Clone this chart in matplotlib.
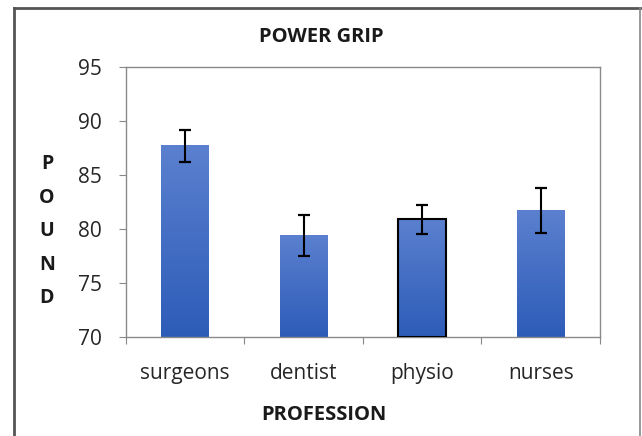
import matplotlib
matplotlib.use("Agg")
import matplotlib.pyplot as plt
import numpy as np
from matplotlib.patches import Rectangle
from matplotlib.colors import LinearSegmentedColormap

categories = ["surgeons", "dentist", "physio", "nurses"]
values = [87.7, 79.4, 80.9, 81.7]
errors = [1.5, 1.9, 1.35, 2.05]
y_ticks = [70, 75, 80, 85, 90, 95]

plt.rcParams['font.family'] = ['Open Sans', 'DejaVu Sans']

fig = plt.figure(figsize=(6.42, 4.36), dpi=100)
ax = fig.add_axes([125.7/642, 1-337/436, (600-125.7)/642, (337-67)/436])

x = np.arange(len(categories))
width = 0.4
cmap = LinearSegmentedColormap.from_list("g", ["#2d5cb8", "#5b80cf"])
grad = np.linspace(0, 1, 256).reshape(-1, 1)
bars = ax.bar(x, values, width=width, bottom=0, color="none", zorder=2)
for i, b in enumerate(bars):
    x0, w, h = b.get_x(), b.get_width(), b.get_height()
    ax.imshow(grad, cmap=cmap, origin="lower", aspect="auto",
              extent=[x0, x0 + w, 70, h], zorder=2)
    if categories[i] == "physio":
        ax.add_patch(Rectangle((x0, 70), w, h - 70, fill=False,
                               edgecolor="black", linewidth=1.5, zorder=3))

ax.errorbar(x, values, yerr=errors, fmt="none", ecolor="black",
            elinewidth=1.5, capsize=4, capthick=1.6, zorder=4)

ax.set_xlim(-0.5, len(categories) - 0.5)
ax.set_ylim(70, 95)
ax.set_yticks(y_ticks)
ax.set_xticks(np.arange(len(categories) + 1) - 0.5)
ax.set_xticklabels([])
ax.set_xticks(x, minor=True)
ax.set_xticklabels(categories, minor=True)
ax.tick_params(axis="x", which="minor", length=0, pad=19, labelsize=15, labelcolor="#262626")
ax.tick_params(axis="x", which="major", length=5, color="#888888", direction="out")
ax.tick_params(axis="y", length=5, color="#888888", labelsize=15, labelcolor="#262626", pad=12)
for s in ax.spines.values():
    s.set_color("#8a8a8a")
    s.set_linewidth(1.0)

fig.text(321/642, 1-37/436, "POWER GRIP", ha="center", va="center",
         fontsize=14.5, fontweight="bold", color="#1a1a1a")
fig.text(324/642, 1-415/436, "PROFESSION", ha="center", va="center",
         fontsize=14.5, fontweight="bold", color="#1a1a1a")
fig.text(47/642, 1-231/436, "P\nO\nU\nN\nD", ha="center", va="center",
         fontsize=14, fontweight="bold", color="#1a1a1a", linespacing=1.9)

# outer border
fig.add_artist(plt.Line2D([14/642, 14/642], [0, 1-8/436], transform=fig.transFigure,
                          color="#555555", linewidth=2))
fig.add_artist(plt.Line2D([14/642, 640/642], [1-8/436, 1-8/436], transform=fig.transFigure,
                          color="#555555", linewidth=2))
fig.add_artist(plt.Line2D([640/642, 640/642], [0, 1-8/436], transform=fig.transFigure,
                          color="#888888", linewidth=1.2))

fig.savefig("out.png", dpi=100)
